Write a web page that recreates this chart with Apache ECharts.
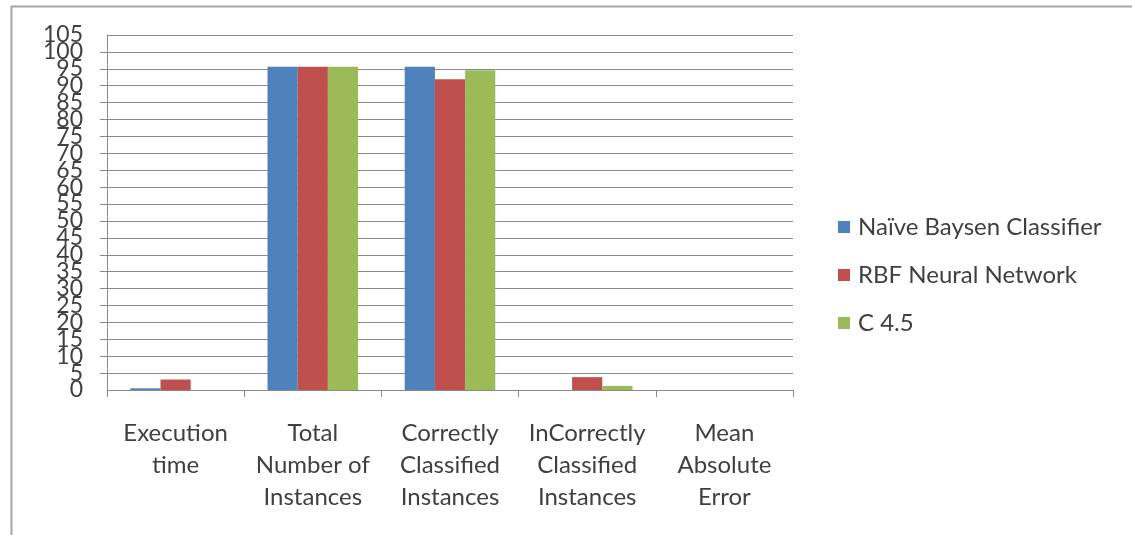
<!DOCTYPE html>
<html>
<head>
<meta charset="utf-8">
<script src="https://cdn.jsdelivr.net/npm/echarts@6/dist/echarts.min.js"></script>
<style>
  html, body { margin: 0; padding: 0; background: #fff; }
  #main { width: 1132px; height: 535px; }
</style>
</head>
<body>
<div id="main"></div>
<script>
// categories and values
const categories = [
  'Execution\ntime',
  'Total\nNumber of\nInstances',
  'Correctly\nClassified\nInstances',
  'InCorrectly\nClassified\nInstances',
  'Mean\nAbsolute\nError'
];
const naiveBayes = [0.5, 95.6, 95.6, 0, 0];
const rbfNetwork = [3.1, 95.6, 91.9, 3.8, 0];
const c45 = [0, 95.6, 94.6, 1.2, 0];
const seriesNames = ['Naïve Baysen Classifier', 'RBF Neural Network', 'C 4.5'];
const colors = ['#4F81BD', '#C0504D', '#9BBB59'];
const yMin = 0;
const yMax = 105;
const yStep = 5;

const font = 'Lato, "Open Sans", sans-serif';
const textColor = '#404040';
const lineColor = '#8a8a8a';

const chart = echarts.init(document.getElementById('main'));

const labelStyle = {
  margin: 24,
  fontSize: 23,
  color: textColor,
  fontFamily: font,
  hideOverlap: false
};

const option = {
  animation: false,
  color: colors,
  textStyle: { fontFamily: font },
  // frame around the chart, only top and left edge visible
  graphic: [
    {
      type: 'rect',
      shape: { x: 11.5, y: 6.5, width: 1300, height: 700 },
      style: { fill: 'none', stroke: '#a6a6a6', lineWidth: 2 }
    }
  ],
  grid: { left: 107, right: 339, top: 35, bottom: 145 },
  legend: {
    orient: 'vertical',
    left: 833,
    top: 210,
    itemWidth: 12,
    itemHeight: 12,
    itemGap: 24,
    icon: 'rect',
    textStyle: { fontSize: 24, color: textColor, fontFamily: font, lineHeight: 22, padding: [0, 0, 0, 3] },
    data: seriesNames
  },
  xAxis: {
    type: 'category',
    data: categories,
    axisLine: { lineStyle: { color: lineColor } },
    axisTick: { show: true, length: 7, lineStyle: { color: lineColor } },
    axisLabel: {
      interval: 0,
      margin: 27,
      fontSize: 24,
      lineHeight: 32,
      color: textColor,
      fontFamily: font,
      hideOverlap: false
    }
  },
  yAxis: [
    {
      type: 'value',
      min: yMin,
      max: yMax,
      interval: yStep,
      axisLine: { show: true, lineStyle: { color: lineColor } },
      axisTick: { show: true, length: 7, lineStyle: { color: lineColor } },
      splitLine: { lineStyle: { color: lineColor } },
      axisLabel: Object.assign({ showMinLabel: false, showMaxLabel: false }, labelStyle)
    },
    {
      // second copy only for the end labels, so the overlap check keeps all of them
      type: 'value',
      position: 'left',
      min: yMin,
      max: yMax,
      interval: yStep,
      axisLine: { show: false },
      axisTick: { show: false },
      splitLine: { show: false },
      axisLabel: Object.assign({
        showMinLabel: true,
        showMaxLabel: true,
        formatter: function (v) { return (v === yMin || v === yMax) ? String(v) : ''; }
      }, labelStyle)
    }
  ],
  series: [
    { name: seriesNames[0], type: 'bar', data: naiveBayes, barGap: '0%', barCategoryGap: '34%' },
    { name: seriesNames[1], type: 'bar', data: rbfNetwork, barGap: '0%', barCategoryGap: '34%' },
    { name: seriesNames[2], type: 'bar', data: c45, barGap: '0%', barCategoryGap: '34%' }
  ]
};

chart.setOption(option);
window.addEventListener('resize', function () {
  chart.resize();
});
</script>
</body>
</html>
